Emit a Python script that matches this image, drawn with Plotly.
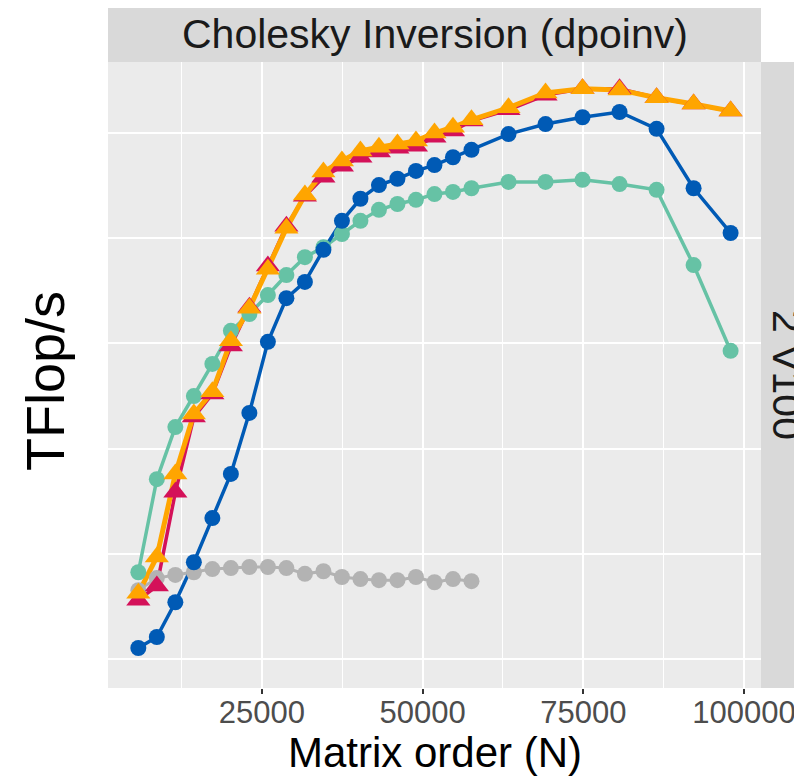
import plotly.graph_objects as go

# matrix orders (N)
n_short = [5760, 8640, 11520, 14400, 17280, 20160, 23040, 25920, 28800, 31680,
           34560, 37440, 40320, 43200, 46080, 48960, 51840, 54720, 57600]
n_long = n_short + [63360, 69120, 74880, 80640, 86400, 92160, 97920]

# TFlop/s
gray_vals = [1.31, 1.54, 1.60, 1.65, 1.71, 1.73, 1.75, 1.75, 1.73, 1.62,
             1.67, 1.56, 1.52, 1.50, 1.50, 1.56, 1.46, 1.52, 1.48]
teal_vals = [1.65, 3.42, 4.41, 5.00, 5.61, 6.24, 6.56, 6.92, 7.30, 7.64,
             7.83, 8.08, 8.33, 8.54, 8.65, 8.73, 8.84, 8.88, 8.95,
             9.07, 9.07, 9.11, 9.03, 8.92, 7.49, 5.86]
blue_vals = [0.21, 0.42, 1.08, 1.84, 2.68, 3.52, 4.68, 6.03, 6.86, 7.17,
             7.78, 8.33, 8.75, 9.01, 9.13, 9.28, 9.39, 9.54, 9.68,
             9.98, 10.17, 10.30, 10.40, 10.08, 8.95, 8.10]
crimson_vals = [1.12, 1.39, 3.17, 4.60, 5.04, 5.95, 6.69, 7.47, 8.23, 8.80,
                9.16, 9.37, 9.54, 9.64, 9.71, 9.75, 9.92, 10.04, 10.23,
                10.44, 10.72, 10.84, 10.84, 10.67, 10.55, 10.42]
orange_vals = [1.25, 1.94, 3.52, 4.66, 5.08, 6.05, 6.67, 7.41, 8.19, 8.82,
               9.26, 9.47, 9.66, 9.73, 9.79, 9.85, 10.00, 10.11, 10.25,
               10.48, 10.76, 10.84, 10.82, 10.67, 10.55, 10.42]

series = [
    ("gray", n_short, gray_vals, "#B3B3B3", "circle", 16, 3),
    ("teal", n_long, teal_vals, "#66C2A5", "circle", 16, 3.5),
    ("blue", n_long, blue_vals, "#005AB5", "circle", 16, 3.5),
    ("crimson", n_long, crimson_vals, "#D41159", "triangle-up", 21, 3.5),
    ("orange", n_long, orange_vals, "#FFA500", "triangle-up", 21, 5),
]

fig = go.Figure()

# lines first, then points (ggplot layer order)
for name, xs, ys, color, sym, size, lw in series:
    fig.add_trace(go.Scatter(
        x=xs, y=ys, mode="lines", name=name, showlegend=False,
        line=dict(color=color, width=lw),
    ))
for name, xs, ys, color, sym, size, lw in series:
    fig.add_trace(go.Scatter(
        x=xs, y=ys, mode="markers", name=name, showlegend=False,
        marker=dict(color=color, symbol=sym, size=size, line=dict(width=0)),
    ))

font = "Liberation Sans, Arial, sans-serif"

# the page body adds an 8px offset, so the figure is laid out 8px up/left
PW, PH = 653, 626          # panel size in px
L, T = 100, 54             # panel top-left inside the figure
W, H = 802, 780


def px(x):
    return (x - 8 - L) / PW


def py(y):
    return (T + PH - (y - 8)) / PH


fig.update_layout(
    width=W, height=H,
    margin=dict(l=L, r=W - L - PW, t=T, b=H - T - PH, autoexpand=False),
    paper_bgcolor="white",
    plot_bgcolor="#EBEBEB",
    font=dict(family=font),
    showlegend=False,
)

fig.update_xaxes(
    range=[1040, 102650],
    tickvals=[25000, 50000, 75000, 100000],
    ticktext=["25000", "50000", "75000", "100000"],
    ticks="outside", ticklen=5, tickwidth=1.5, tickcolor="#333333",
    tickfont=dict(size=31, color="#4D4D4D", family=font),
    ticklabelstandoff=-8,
    showgrid=True, gridcolor="white", gridwidth=2,
    minor=dict(dtick=12500, tick0=0, showgrid=True, gridcolor="white", gridwidth=1.2),
    zeroline=False, showline=False, automargin=False,
)
fig.update_yaxes(
    range=[-0.55, 11.35],
    dtick=2, tick0=0,
    showticklabels=False, ticks="",
    showgrid=True, gridcolor="white", gridwidth=1.8,
    zeroline=False, showline=False, automargin=False,
)

# facet strips
fig.add_shape(type="rect", xref="paper", yref="paper",
              x0=0, x1=1, y0=1, y1=py(0),
              fillcolor="#D9D9D9", line=dict(width=0), layer="below")
fig.add_shape(type="rect", xref="paper", yref="paper",
              x0=1, x1=px(900), y0=0, y1=1,
              fillcolor="#D9D9D9", line=dict(width=0), layer="below")

fig.add_annotation(text="Cholesky Inversion (dpoinv)", xref="paper", yref="paper",
                   x=0.5, y=py(34), xanchor="center", yanchor="middle",
                   showarrow=False, font=dict(size=41, color="#1A1A1A", family=font))
fig.add_annotation(text="2 V100", xref="paper", yref="paper",
                   x=px(787), y=py(375), xanchor="center", yanchor="middle",
                   textangle=90, showarrow=False,
                   font=dict(size=41, color="#1A1A1A", family=font))

# axis titles
fig.add_annotation(text="Matrix order (N)", xref="paper", yref="paper",
                   x=0.5, y=py(752), xanchor="center", yanchor="middle",
                   showarrow=False, font=dict(size=42, color="black", family=font))
fig.add_annotation(text="TFlop/s", xref="paper", yref="paper",
                   x=px(45), y=py(381), xanchor="center", yanchor="middle",
                   textangle=-90, showarrow=False,
                   font=dict(size=54, color="black", family=font))

fig.write_html("out.html")
